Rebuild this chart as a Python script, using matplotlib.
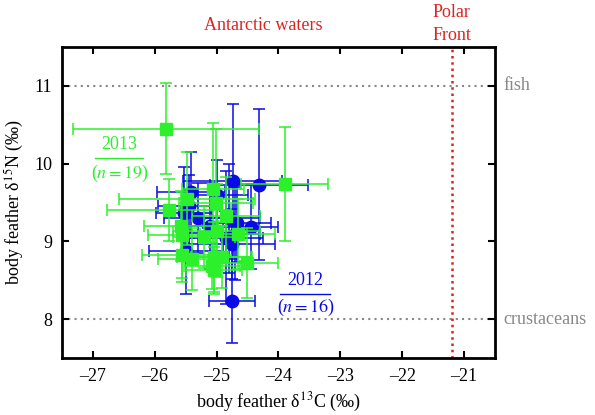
import numpy as np
import matplotlib
matplotlib.use("Agg")
import matplotlib.pyplot as plt

plt.rcParams['font.family'] = ['Liberation Serif', 'DejaVu Serif']
plt.rcParams['mathtext.fontset'] = 'stix'

# 2012 birds (blue circles): body feather d13C, d15N and their SD
c12 = [-24.74, -24.32, -25.41, -25.53, -24.67, -24.45, -24.75, -25.50, -24.75,
       -25.45, -25.10, -24.85, -24.80, -25.30, -24.70, -25.00]
n12 = [9.78, 9.73, 9.63, 9.36, 9.24, 9.19, 8.97, 8.88, 8.24,
       9.45, 9.20, 9.05, 9.30, 9.30, 9.10, 9.60]
c12_sd = [0.80, 0.79, 0.55, 0.45, 0.55, 0.45, 0.70, 0.60, 0.37,
          0.50, 0.45, 0.60, 0.50, 0.55, 0.40, 0.50]
n12_sd = [0.98, 0.97, 0.52, 0.60, 0.50, 0.55, 0.45, 0.55, 0.54,
          0.40, 0.55, 0.85, 0.70, 0.45, 0.60, 0.45]

# 2013 birds (green squares)
c13 = [-25.82, -23.90, -25.06, -25.01, -24.85, -25.58, -25.56, -25.20, -25.00,
       -24.66, -25.56, -25.40, -25.04, -24.92, -25.07, -24.51, -25.77, -25.48,
       -25.04]
n13 = [10.45, 9.74, 9.67, 9.50, 9.33, 9.20, 9.08, 9.06, 9.14,
       9.10, 8.83, 8.77, 8.80, 8.80, 8.69, 8.72, 9.40, 9.55,
       8.63]
c13_sd = [1.50, 0.70, 0.50, 0.60, 0.55, 0.60, 0.55, 0.50, 0.70,
          0.60, 0.65, 0.55, 0.60, 0.50, 0.45, 0.50, 1.00, 1.10,
          0.45]
n13_sd = [0.58, 0.73, 0.85, 0.95, 0.50, 0.45, 0.55, 0.40, 0.60,
          0.45, 0.35, 0.40, 0.45, 0.40, 0.30, 0.45, 0.40, 0.60,
          0.30]

fish_level = 11
crust_level = 8
polar_front = -21.2

blue = '#0a0ae6'
green = '#2cf02c'
red = '#dd2222'
grey = '#888888'

fig = plt.figure(figsize=(5.95, 4.15), dpi=100)
ax = fig.add_axes([0.104, 0.137, 0.728, 0.750])

ax.axhline(fish_level, color=grey, linestyle=(0, (1, 2)), linewidth=1.5, zorder=1)
ax.axhline(crust_level, color=grey, linestyle=(0, (1, 2)), linewidth=1.5, zorder=1)
ax.axvline(polar_front, color=red, linestyle=(0, (1, 1.5)), linewidth=1.8, zorder=1)

ax.errorbar(c12, n12, xerr=c12_sd, yerr=n12_sd, fmt='o', color=blue,
            markersize=9, elinewidth=1.1, capsize=4, capthick=1.1, zorder=3)
ax.errorbar(c13, n13, xerr=c13_sd, yerr=n13_sd, fmt='s', color=green,
            markersize=8.5, elinewidth=1.1, capsize=4, capthick=1.1, zorder=4)

ax.set_xlim(-27.5, -20.5)
ax.set_ylim(7.5, 11.5)
ax.set_xticks(range(-27, -20))
ax.set_xticklabels(['\u2013%d' % abs(v) for v in range(-27, -20)])
ax.set_yticks([8, 9, 10, 11])
ax.tick_params(direction='in', length=5, width=1.5, labelsize=13,
               top=True, right=True, pad=7)
for s in ax.spines.values():
    s.set_linewidth(2)

ax.set_xlabel('body feather \u03b4$^{13}$C (\u2030)', fontsize=13, labelpad=4)
ax.set_ylabel('body feather \u03b4$^{15}$N (\u2030)', fontsize=13, labelpad=6)

# labels outside the plot
ax.text(1.02, (fish_level - 7.5) / 4, 'fish', transform=ax.transAxes,
        color=grey, fontsize=13, va='center', ha='left')
ax.text(1.02, (crust_level - 7.5) / 4, 'crustaceans', transform=ax.transAxes,
        color=grey, fontsize=13, va='center', ha='left')
ax.text(-24.25, 11.78, 'Antarctic waters', color=red, fontsize=13,
        ha='center', va='center', clip_on=False)
ax.text(polar_front, 11.79, 'Polar\nFront', color=red, fontsize=13,
        ha='center', va='center', linespacing=1.45, clip_on=False)

# year labels, drawn as fractions
ax.text(-26.57, 10.25, '2013', color=green, fontsize=13, ha='center', va='center')
ax.plot([-26.96, -26.19], [10.07, 10.07], color=green, linewidth=1)
ax.text(-26.57, 9.88, '($n = 19$)', color=green, fontsize=13, ha='center', va='center')

ax.text(-23.56, 8.5, '2012', color=blue, fontsize=13, ha='center', va='center')
ax.plot([-23.97, -23.16], [8.33, 8.33], color=blue, linewidth=1)
ax.text(-23.56, 8.15, '($n = 16$)', color=blue, fontsize=13, ha='center', va='center')

fig.savefig('out.png', dpi=100)
